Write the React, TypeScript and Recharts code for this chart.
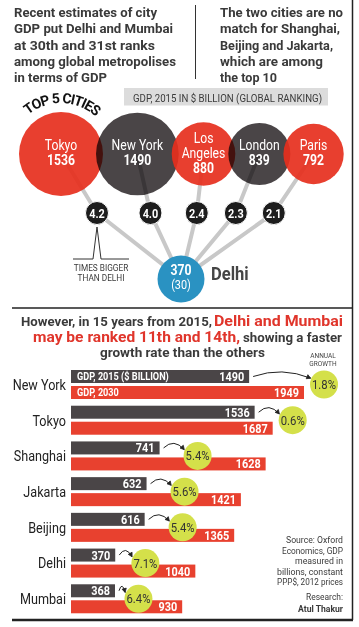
import React from 'react';
import { ScatterChart, Scatter, BarChart, Bar, XAxis, YAxis } from 'recharts';

const FONT = 'Roboto, sans-serif';
const INK = '#3a3a3a';
const DARK = '#4a4547';
const RED = '#e8412f';
const LIME = '#d4e04a';

// top 5 cities, GDP 2015 ($ billion)
const top5Cities = ['Tokyo', 'New York', 'Los Angeles', 'London', 'Paris'];
const top5Gdp = [1536, 1490, 880, 839, 792];
const timesBigger = ['4.2', '4.0', '2.4', '2.3', '2.1'];
const delhiGdp = 370;
const delhiRank = 30;

// 2015 vs 2030
const cities = ['New York', 'Tokyo', 'Shanghai', 'Jakarta', 'Beijing', 'Delhi', 'Mumbai'];
const gdp2015 = [1490, 1536, 741, 632, 616, 370, 368];
const gdp2030 = [1949, 1687, 1628, 1421, 1365, 1040, 930];
const growth = [1.8, 0.6, 5.4, 5.6, 5.4, 7.1, 6.4];

// the original uses a condensed face; squeeze Roboto to about that width
const SQ = 0.87;
let ctx: CanvasRenderingContext2D | null = null;
const textW = (s: string, size: number, weight: number) => {
  if (!ctx) ctx = document.createElement('canvas').getContext('2d');
  if (!ctx) return undefined;
  ctx.font = `${weight} ${size}px Roboto`;
  return ctx.measureText(s).width * SQ;
};

const NT = ({ x, y, size, weight = 400, fill = INK, anchor, w, children }: any) => {
  const s = String(children);
  return (
    <text
      x={x}
      y={y}
      fontSize={size}
      fontWeight={weight}
      fill={fill}
      textAnchor={anchor}
      fontFamily={FONT}
      textLength={w ?? textW(s, size, weight)}
      lengthAdjust="spacingAndGlyphs"
    >
      {s}
    </text>
  );
};

// ---- top bubble layout (derived from the values) ----
const TOP_Y = 85;
const R_MAX = 42;
const bubbleR = (v: number) => R_MAX * Math.sqrt(v / Math.max(...top5Gdp));
let edge = 19;
const bubbles = top5Cities.map((city, i) => {
  const r = bubbleR(top5Gdp[i]);
  const x = edge + r;
  edge = x + r - 7;
  return { city, gdp: top5Gdp[i], r, x, y: 69, i };
});
const delhiPt = { x: 181, y: 194, gdp: delhiGdp, rank: delhiRank };
const dots = bubbles.map((b, i) => ({ x: b.x + 0.3 * (delhiPt.x - b.x), y: 128, times: timesBigger[i], i }));
const spokes = bubbles.map((b, i) => [
  { x: b.x, y: b.y },
  { x: dots[i].x, y: dots[i].y },
  { x: delhiPt.x, y: delhiPt.y },
]);

const barRows = cities.map((city, i) => ({
  city,
  gdp2015: gdp2015[i],
  gdp2030: gdp2030[i],
  growth: growth[i],
}));

const BubbleShape = (p: any) => {
  const { cx, cy, payload } = p;
  const gray = payload.i % 2 === 1;
  const lines: string[] = payload.city.length > 8 ? payload.city.split(' ') : [payload.city];
  const n = lines.length + 1;
  const b0 = cy + 3.5 - 7.5 * (n - 1);
  return (
    <g>
      <circle
        cx={cx}
        cy={cy}
        r={payload.r}
        fill={gray ? DARK : '#e62f1d'}
        fillOpacity={gray ? 1 : 0.92}
        style={gray ? { mixBlendMode: 'multiply' } : undefined}
      />
      {lines.map((l, k) => (
        <NT key={k} x={cx} y={b0 + 15 * k} anchor="middle" fill="#fff" size={14}>
          {l}
        </NT>
      ))}
      <NT x={cx} y={b0 + 15 * lines.length} anchor="middle" fill="#fff" size={14} weight={700}>
        {payload.gdp}
      </NT>
    </g>
  );
};

const DotShape = (p: any) => {
  const { cx, cy, payload } = p;
  return (
    <g>
      <circle cx={cx} cy={cy} r={11.5} fill="#1d1d1d" stroke="#fff" strokeWidth={1} />
      <NT x={cx} y={cy + 4.5} anchor="middle" fill="#fff" size={12.5} weight={700}>
        {payload.times}
      </NT>
      {payload.i === 0 && (
        <g>
          <path
            d={`M${cx - 24},${cy + 46} H${cx - 4} L${cx},${cy + 14} L${cx + 4},${cy + 46} H${cx + 32}`}
            fill="none"
            stroke="#333"
            strokeWidth={1}
          />
          <NT x={cx + 4} y={cy + 58} anchor="middle" size={9.5}>TIMES BIGGER</NT>
          <NT x={cx + 4} y={cy + 68} anchor="middle" size={9.5}>THAN DELHI</NT>
        </g>
      )}
    </g>
  );
};

const DelhiShape = (p: any) => {
  const { cx, cy, payload } = p;
  return (
    <g>
      <circle cx={cx} cy={cy} r={23.5} fill="#2a92c2" />
      <NT x={cx} y={cy - 4.5} anchor="middle" fill="#fff" size={14} weight={700}>
        {payload.gdp}
      </NT>
      <NT x={cx} y={cy + 10} anchor="middle" fill="#fff" size={12.5}>
        {`(${payload.rank})`}
      </NT>
      <NT x={cx + 30} y={cy + 1} fill="#454545" size={19} weight={700}>
        Delhi
      </NT>
    </g>
  );
};

const Arrow = ({ sx, sy, ex, ey }: any) => {
  const qx = (sx + ex) / 2;
  const qy = Math.min(sy, ey) - 10;
  const ang = Math.atan2(ey - qy, ex - qx);
  const h = 4.5;
  const a = [ex - h * Math.cos(ang - 0.5), ey - h * Math.sin(ang - 0.5)];
  const b = [ex - h * Math.cos(ang + 0.5), ey - h * Math.sin(ang + 0.5)];
  return (
    <g>
      <path d={`M${sx},${sy} Q${qx},${qy} ${ex},${ey}`} fill="none" stroke="#222" strokeWidth={1} />
      <path d={`M${a[0]},${a[1]} L${ex},${ey} L${b[0]},${b[1]} Z`} fill="#222" stroke="#222" strokeWidth={0.8} />
    </g>
  );
};

const DarkBar = (p: any) => {
  const { x, y, width, height, index, payload } = p;
  return (
    <g>
      <rect x={x} y={y} width={width} height={height} fill={DARK} />
      <NT x={x + width - 5} y={y + height / 2 + 4.5} anchor="end" fill="#fff" size={12.5} weight={700}>
        {payload.gdp2015}
      </NT>
      {index === 0 && (
        <NT x={x + 6} y={y + height / 2 + 3.8} fill="#fff" size={10.5} weight={700}>
          GDP, 2015 ($ BILLION)
        </NT>
      )}
    </g>
  );
};

const RedBar = (p: any) => {
  const { x, y, width, height, index, payload } = p;
  const darkEnd = x + (width * payload.gdp2015) / payload.gdp2030;
  const redEnd = x + width;
  const r = 14;
  const cy = y - 1.5;
  const labelW = textW(String(payload.gdp2030), 12.5, 700) ?? 22;
  const cx =
    payload.growth < 2 ? redEnd + 20 : Math.min(darkEnd + 38, redEnd - 5 - labelW - r - 6);
  const sy = y - 3 - 6.5;
  return (
    <g>
      <rect x={x} y={y} width={width} height={height} fill={RED} />
      <NT x={redEnd - 5} y={y + height / 2 + 4.5} anchor="end" fill="#fff" size={12.5} weight={700}>
        {payload.gdp2030}
      </NT>
      {index === 0 && (
        <NT x={x + 6} y={y + height / 2 + 3.8} fill="#fff" size={10.5} weight={700}>
          GDP, 2030
        </NT>
      )}
      <Arrow sx={darkEnd + 4} sy={sy} ex={cx - r * 0.95} ey={cy - r * 0.45} />
      <circle cx={cx} cy={cy} r={r} fill={LIME} />
      <NT x={cx} y={cy + 4.5} anchor="middle" fill="#333" size={13}>
        {`${payload.growth}%`}
      </NT>
    </g>
  );
};

const CityTick = (p: any) => (
  <NT x={p.x} y={p.y + 5} anchor="end" fill="#222" size={14.5}>
    {p.payload.value}
  </NT>
);

export default function App() {
  return (
    <div
      style={{
        position: 'absolute',
        left: 0,
        top: 0,
        width: 359,
        height: 627,
        background: '#fff',
        overflow: 'hidden',
        fontFamily: FONT,
      }}
    >
      <div style={{ position: 'absolute', left: 0, top: TOP_Y }}>
        <ScatterChart width={359} height={225} margin={{ top: 0, right: 0, bottom: 0, left: 0 }}>
          <XAxis type="number" dataKey="x" domain={[0, 359]} hide />
          <YAxis type="number" dataKey="y" domain={[0, 225]} reversed hide />
          {spokes.map((s, i) => (
            <Scatter
              key={i}
              data={s}
              line={{ stroke: '#c8c8c8', strokeWidth: 4 }}
              lineType="joint"
              shape={() => <g />}
              isAnimationActive={false}
            />
          ))}
          <Scatter data={bubbles} shape={BubbleShape} isAnimationActive={false} />
          <Scatter data={dots} shape={DotShape} isAnimationActive={false} />
          <Scatter data={[delhiPt]} shape={DelhiShape} isAnimationActive={false} />
        </ScatterChart>
      </div>

      <div style={{ position: 'absolute', left: 0, top: 360 }}>
        <BarChart
          width={359}
          height={260}
          layout="vertical"
          data={barRows}
          margin={{ top: 7, right: 55, bottom: 3, left: 0 }}
          barSize={13}
          barGap={3}
        >
          <XAxis type="number" domain={[0, Math.max(...gdp2030)]} hide />
          <YAxis
            type="category"
            dataKey="city"
            width={71}
            axisLine={false}
            tickLine={false}
            tickSize={0}
            tickMargin={5}
            interval={0}
            tick={CityTick}
          />
          <Bar dataKey="gdp2015" shape={DarkBar} isAnimationActive={false} />
          <Bar dataKey="gdp2030" shape={RedBar} isAnimationActive={false} />
        </BarChart>
      </div>

      <svg width={359} height={627} style={{ position: 'absolute', left: 0, top: 0, pointerEvents: 'none' }}>
        {/* intro text */}
        <NT x={14} y={17.3} w={143} size={13} weight={700}>Recent estimates of city</NT>
        <NT x={14} y={33.4} w={159} size={13} weight={700}>GDP put Delhi and Mumbai</NT>
        <NT x={14} y={49.5} w={141} size={13} weight={700}>at 30th and 31st ranks</NT>
        <NT x={14} y={65.6} w={162} size={13} weight={700}>among global metropolises</NT>
        <NT x={14} y={81.7} w={93} size={13} weight={700}>in terms of GDP</NT>
        <line x1={195.5} y1={5} x2={195.5} y2={79} stroke="#333" strokeWidth={1} />
        <NT x={220} y={17.3} w={123} size={13} weight={700}>The two cities are no</NT>
        <NT x={220} y={33.4} w={120} size={13} weight={700}>match for Shanghai,</NT>
        <NT x={220} y={49.5} w={113} size={13} weight={700}>Beijing and Jakarta,</NT>
        <NT x={220} y={65.6} w={103} size={13} weight={700}>which are among</NT>
        <NT x={220} y={81.7} w={57} size={13} weight={700}>the top 10</NT>

        {/* bubble header */}
        <rect x={124} y={88} width={204} height={17.5} fill="#dcdcdc" />
        <NT x={133} y={101.5} w={189} size={10.5}>GDP, 2015 IN $ BILLION (GLOBAL RANKING)</NT>
        <defs>
          <path id="arc" d="M 28.2 114.9 A 51 51 0 0 1 97.1 117.9" />
        </defs>
        <text fontSize={14} fontWeight={700} fill="#111" fontFamily={FONT}>
          <textPath href="#arc" textLength={74} lengthAdjust="spacing">
            TOP 5 CITIES
          </textPath>
        </text>

        {/* frame */}
        <line x1={352.5} y1={0} x2={352.5} y2={620} stroke="#222" strokeWidth={1.5} />
        <line x1={12} y1={308} x2={353} y2={308} stroke="#222" strokeWidth={1.5} />
        <line x1={12} y1={620} x2={353} y2={620} stroke="#222" strokeWidth={2.5} />

        {/* second headline */}
        <NT x={21} y={325.5} w={191} size={12.5} weight={700}>However, in 15 years from 2015,</NT>
        <NT x={214} y={325.5} w={129} size={14.5} weight={700} fill="#e0352b">Delhi and Mumbai</NT>
        <NT x={33} y={342} w={207} size={14.5} weight={700} fill="#e0352b">may be ranked 11th and 14th,</NT>
        <NT x={243} y={342} w={99} size={12.5} weight={700}>showing a faster</NT>
        <NT x={100} y={357} w={165} size={12.5} weight={700}>growth rate than the others</NT>

        <NT x={323} y={357.5} size={7.5} anchor="middle" fill="#444">ANNUAL</NT>
        <NT x={323} y={366} size={7.5} anchor="middle" fill="#444">GROWTH</NT>

        {/* source */}
        <NT x={343} y={543} w={57} size={9} anchor="end">Source: Oxford</NT>
        <NT x={343} y={553.5} w={61} size={9} anchor="end">Economics, GDP</NT>
        <NT x={343} y={564} w={48} size={9} anchor="end">measured in</NT>
        <NT x={343} y={574.5} w={66} size={9} anchor="end">billions, constant</NT>
        <NT x={343} y={585} w={66} size={9} anchor="end">PPP$, 2012 prices</NT>
        <NT x={343} y={600} w={37} size={9.5} anchor="end">Research:</NT>
        <NT x={343} y={611.5} w={45} size={9.5} anchor="end" weight={700}>Atul Thakur</NT>
      </svg>
    </div>
  );
}
